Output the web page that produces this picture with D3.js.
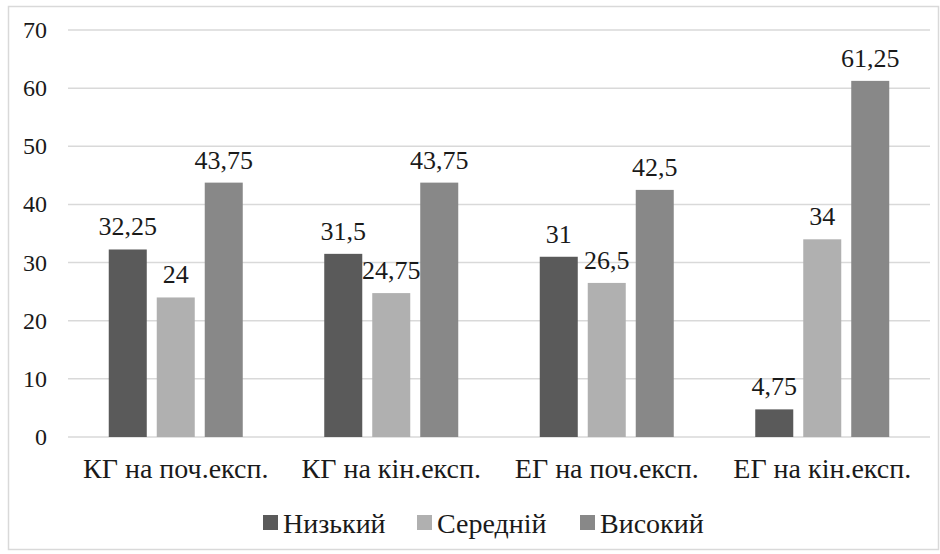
<!DOCTYPE html>
<html>
<head>
<meta charset="utf-8">
<script src="https://cdn.jsdelivr.net/npm/d3@7"></script>
</head>
<body style="margin:0">
<script>
var categories = ["КГ на поч.експ.", "КГ на кін.експ.", "ЕГ на поч.експ.", "ЕГ на кін.експ."];
var seriesNames = ["Низький", "Середній", "Високий"];
var nyzkyi = [32.25, 31.5, 31, 4.75];
var seredniy = [24, 24.75, 26.5, 34];
var vysokyi = [43.75, 43.75, 42.5, 61.25];
var yTicks = [0, 10, 20, 30, 40, 50, 60, 70];
var colors = ["#5a5a5a", "#b0b0b0", "#888888"];

var serif = "'Times New Roman'";
var ink = "#1a1a1a";
var width = 940, height = 554;
var margin = {top: 30, right: 10, bottom: 117, left: 68};

var svg = d3.select("body")
	.append("svg")
	.attr("width", width)
	.attr("height", height);

// outer frame
svg.append("rect")
	.attr("x", 8.5).attr("y", 6.5)
	.attr("width", 930).attr("height", 543)
	.style("fill", "none")
	.style("stroke", "#d9d9d9")
	.style("stroke-width", 1.5);

var x0 = d3.scaleBand()
	.domain(categories)
	.range([margin.left, width - margin.right]);

var x1 = d3.scaleBand()
	.domain(seriesNames)
	.range([0, 134])
	.paddingInner(0.208);

var y = d3.scaleLinear()
	.domain([0, 70])
	.range([height - margin.bottom, margin.top]);

// gridlines
svg.append("g")
	.selectAll("line")
	.data(yTicks)
	.enter()
	.append("line")
	.attr("x1", margin.left)
	.attr("x2", width - margin.right)
	.attr("y1", function(d){ return y(d); })
	.attr("y2", function(d){ return y(d); })
	.style("stroke", "#d9d9d9")
	.style("stroke-width", 1.5);

// y tick labels
svg.append("g")
	.selectAll("text")
	.data(yTicks)
	.enter()
	.append("text")
	.attr("x", margin.left - 21)
	.attr("y", function(d){ return y(d) + 8; })
	.attr("text-anchor", "end")
	.style("font-family", serif)
	.style("font-size", "24px")
	.style("fill", ink)
	.text(function(d){ return d; });

// category labels
svg.append("g")
	.selectAll("text")
	.data(categories)
	.enter()
	.append("text")
	.attr("x", function(d){ return x0(d) + x0.bandwidth() / 2; })
	.attr("y", y(0) + 41)
	.attr("text-anchor", "middle")
	.style("font-family", serif)
	.style("font-size", "28px")
	.style("fill", ink)
	.text(function(d){ return d; });

var rows = categories.map(function(c, i){
	return {cat: c, vals: [nyzkyi[i], seredniy[i], vysokyi[i]]};
});

var groups = svg.selectAll("g.grp")
	.data(rows)
	.enter()
	.append("g")
	.attr("class", "grp")
	.attr("transform", function(d){
		return "translate(" + (x0(d.cat) + x0.bandwidth() / 2 - 67) + ",0)";
	});

groups.selectAll("rect")
	.data(function(d){ return d.vals.map(function(v, j){ return {s: seriesNames[j], v: v, j: j}; }); })
	.enter()
	.append("rect")
	.attr("x", function(d){ return x1(d.s); })
	.attr("width", x1.bandwidth())
	.attr("y", function(d){ return y(d.v); })
	.attr("height", function(d){ return y(0) - y(d.v); })
	.style("fill", function(d){ return colors[d.j]; });

groups.selectAll("text.val")
	.data(function(d){ return d.vals.map(function(v, j){ return {s: seriesNames[j], v: v}; }); })
	.enter()
	.append("text")
	.attr("class", "val")
	.attr("x", function(d){ return x1(d.s) + x1.bandwidth() / 2; })
	.attr("y", function(d){ return y(d.v) - 14; })
	.attr("text-anchor", "middle")
	.style("font-family", serif)
	.style("font-size", "26px")
	.style("fill", ink)
	.text(function(d){ return String(d.v).replace(".", ","); });

// legend
var legendX = [263, 417, 580];
var items = svg.append("g")
	.selectAll("g")
	.data(seriesNames)
	.enter()
	.append("g")
	.attr("transform", function(d, i){ return "translate(" + legendX[i] + ",533)"; });

items.append("rect")
	.attr("x", 0).attr("y", -18)
	.attr("width", 15).attr("height", 15)
	.style("fill", function(d, i){ return colors[i]; });

items.append("text")
	.attr("x", 20)
	.attr("y", 0)
	.style("font-family", serif)
	.style("font-size", "28px")
	.style("fill", ink)
	.text(function(d){ return d; });
</script>
</body>
</html>
